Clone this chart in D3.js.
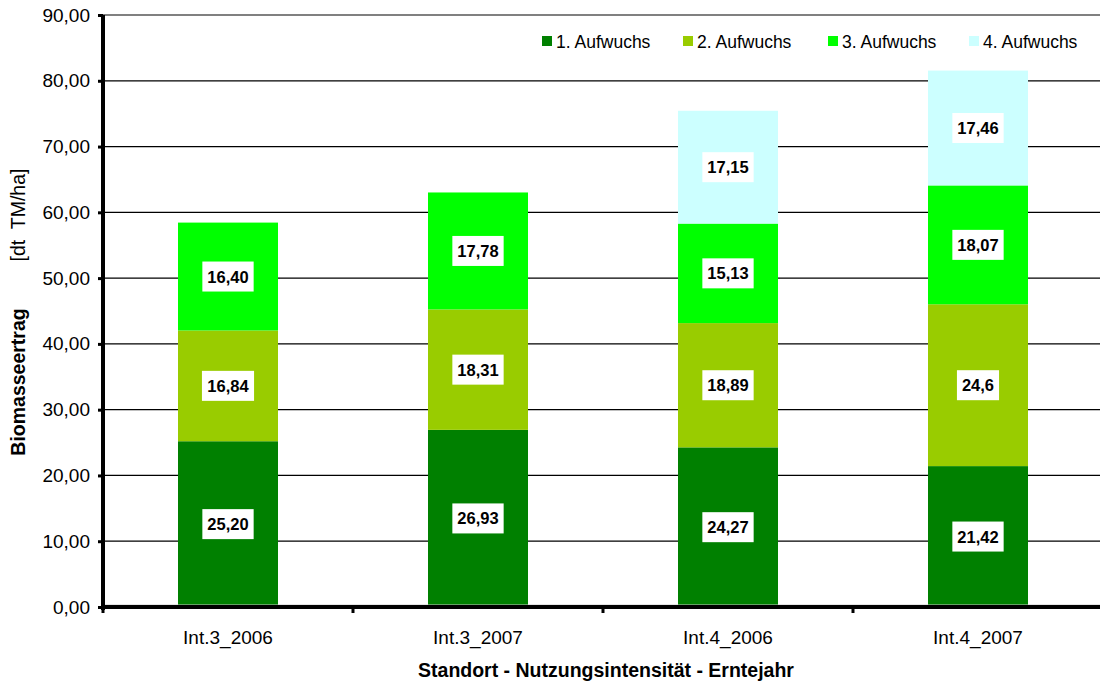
<html>
  <head>
    <meta charset="utf-8">
    <script src="https://d3js.org/d3.v7.min.js"></script>
    <style>
      body { margin: 0; background: white; font-family: "Liberation Sans", Arial, sans-serif; }
      svg text { fill: black; }
    </style>
  </head>
  <body>
    <div id="chart"></div>
  </body>
  <script>
    // data
    const categories = ["Int.3_2006", "Int.3_2007", "Int.4_2006", "Int.4_2007"]
    const seriesNames = ["1. Aufwuchs", "2. Aufwuchs", "3. Aufwuchs", "4. Aufwuchs"]
    const aufwuchs1 = [25.20, 26.93, 24.27, 21.42]
    const aufwuchs2 = [16.84, 18.31, 18.89, 24.6]
    const aufwuchs3 = [16.40, 17.78, 15.13, 18.07]
    const aufwuchs4 = [0, 0, 17.15, 17.46]
    // labels as printed (one of them has only one decimal)
    const labels1 = ["25,20", "26,93", "24,27", "21,42"]
    const labels2 = ["16,84", "18,31", "18,89", "24,6"]
    const labels3 = ["16,40", "17,78", "15,13", "18,07"]
    const labels4 = ["", "", "17,15", "17,46"]
    const yTicks = [0, 10, 20, 30, 40, 50, 60, 70, 80, 90]
    const colors = ["#008000", "#99cc00", "#00ff00", "#ccffff"]

    const W = 1100, H = 683
    const pLeft = 103, pRight = 1103, pTop = 15, pBottom = 607

    const svg = d3.select("#chart").append("svg")
      .attr("width", W).attr("height", H)

    const x = d3.scaleBand().domain(categories)
      .range([pLeft, pRight]).paddingInner(0.6).paddingOuter(0.3)
    const y = d3.scaleLinear().domain([0, 90]).range([pBottom, pTop])

    // gridlines
    svg.append("g").selectAll("line")
      .data(yTicks.filter(d => d > 0))
      .join("line")
        .attr("x1", pLeft).attr("x2", pRight)
        .attr("y1", d => y(d)).attr("y2", d => y(d))
        .attr("stroke", d => d === 90 ? "#808080" : "black")
        .attr("stroke-width", d => d === 90 ? 2 : 1.3)

    // stacked bars
    const rows = categories.map((c, i) => ({
      cat: c, s0: aufwuchs1[i], s1: aufwuchs2[i], s2: aufwuchs3[i], s3: aufwuchs4[i]
    }))
    const labelSets = [labels1, labels2, labels3, labels4]
    const stack = d3.stack().keys(["s0", "s1", "s2", "s3"])(rows)

    const layers = svg.append("g").selectAll("g")
      .data(stack)
      .join("g")
        .attr("fill", (d, i) => colors[i])

    layers.selectAll("rect")
      .data(d => d)
      .join("rect")
        .attr("x", d => x(d.data.cat))
        .attr("width", x.bandwidth())
        .attr("y", d => y(d[1]))
        .attr("height", d => y(d[0]) - y(d[1]))

    // value labels in white boxes
    stack.forEach((layer, si) => {
      layer.forEach((d, ci) => {
        const txt = labelSets[si][ci]
        if (!txt) return
        const cx = x(d.data.cat) + x.bandwidth() / 2
        const cy = y((d[0] + d[1]) / 2)
        const g = svg.append("g")
        const t = g.append("text")
          .attr("x", cx).attr("y", cy)
          .attr("text-anchor", "middle")
          .attr("dominant-baseline", "central")
          .style("font-size", "16.5px").style("font-weight", "bold")
          .text(txt)
        const bb = t.node().getBBox()
        g.insert("rect", "text")
          .attr("x", cx - bb.width / 2 - 5).attr("width", bb.width + 10)
          .attr("y", cy - 15).attr("height", 30)
          .attr("fill", "white")
      })
    })

    // light line above the x axis
    svg.append("line")
      .attr("x1", pLeft).attr("x2", pRight)
      .attr("y1", pBottom - 2).attr("y2", pBottom - 2)
      .attr("stroke", "#c8c8c8").attr("stroke-width", 1)

    // y axis
    const yAxis = svg.append("g")
      .attr("transform", `translate(${pLeft},0)`)
      .call(d3.axisLeft(y).tickValues(yTicks).tickSize(5).tickPadding(8)
        .tickFormat(d => d3.format(".2f")(d).replace(".", ",")))
    yAxis.select(".domain").attr("stroke-width", 4)
      .attr("d", `M0,${pTop}V${pBottom + 3}`)
    yAxis.selectAll(".tick line").attr("stroke-width", 3)
    yAxis.selectAll("text").style("font-size", "19px")
      .style("font-family", "Liberation Sans, Arial, sans-serif")

    // x axis
    const bounds = d3.range(categories.length + 1).map(i => pLeft + i * x.step())
    svg.append("line")
      .attr("x1", pLeft - 2).attr("x2", pRight)
      .attr("y1", pBottom).attr("y2", pBottom)
      .attr("stroke", "black").attr("stroke-width", 4)
    svg.append("g").selectAll("line")
      .data(bounds)
      .join("line")
        .attr("x1", d => d).attr("x2", d => d)
        .attr("y1", pBottom).attr("y2", pBottom + 6)
        .attr("stroke", "black").attr("stroke-width", 3)
    svg.append("g").selectAll("text")
      .data(categories)
      .join("text")
        .attr("x", d => x(d) + x.bandwidth() / 2)
        .attr("y", 644)
        .attr("text-anchor", "middle")
        .style("font-size", "19px")
        .text(d => d)

    // axis titles
    svg.append("text")
      .attr("x", 606).attr("y", 677)
      .attr("text-anchor", "middle")
      .style("font-size", "19.5px").style("font-weight", "bold")
      .text("Standort - Nutzungsintensität - Erntejahr")

    svg.append("text")
      .attr("transform", "translate(25,382) rotate(-90)")
      .attr("text-anchor", "middle")
      .style("font-size", "19.5px").style("font-weight", "bold")
      .text("Biomasseertrag")
    svg.append("text")
      .attr("transform", "translate(25,215) rotate(-90)")
      .attr("text-anchor", "middle")
      .style("font-size", "19.5px")
      .style("white-space", "pre")
      .text("[dt  TM/ha]")

    // legend
    const legendX = [542, 683, 828, 969]
    const legend = svg.append("g").selectAll("g")
      .data(seriesNames)
      .join("g")
        .attr("transform", (d, i) => `translate(${legendX[i]},36)`)
    legend.append("rect")
      .attr("width", 10).attr("height", 10)
      .attr("fill", (d, i) => colors[i])
    legend.append("text")
      .attr("x", 14).attr("y", 12)
      .style("font-size", "17.5px")
      .text(d => d)
  </script>
</html>
